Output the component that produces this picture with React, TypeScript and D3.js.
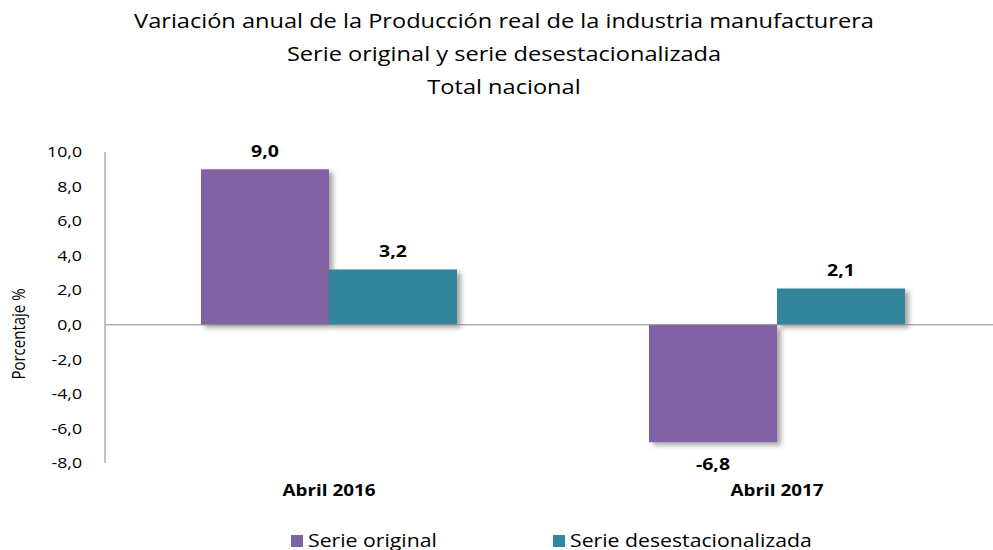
import React from "react";
import * as d3 from "d3";

const categories = ["Abril 2016", "Abril 2017"];
const seriesNames = ["Serie original", "Serie desestacionalizada"];
const serieOriginal = [9.0, -6.8];
const serieDesest = [3.2, 2.1];
const yTicks = [10, 8, 6, 4, 2, 0, -2, -4, -6, -8];
const titleLines = [
  "Variación anual de la Producción real de la industria manufacturera",
  "Serie original y serie desestacionalizada",
  "Total nacional",
];
const colors = ["#8064A2", "#31859C"];

const W = 993;
const H = 550;
const S = 1.18; // horizontal stretch of the reference text
const font = "'Open Sans', sans-serif";

function T(props: {
  x: number;
  y: number;
  anchor?: "start" | "middle" | "end";
  size: number;
  bold?: boolean;
  rotate?: number;
  dy?: string;
  children: React.ReactNode;
}) {
  const { x, y, anchor = "start", size, bold, rotate, dy, children } = props;
  const tr = `translate(${x},${y}) scale(${S},1)` + (rotate ? ` rotate(${rotate})` : "");
  return (
    <text
      transform={tr}
      textAnchor={anchor}
      fontSize={size}
      fontWeight={bold ? "bold" : "normal"}
      dy={dy}
      fill="#000"
    >
      {children}
    </text>
  );
}

export default function App() {
  const y = d3.scaleLinear().domain([-8, 10]).range([463, 152]);
  const x0 = d3.scaleBand<string>().domain(categories).range([105, 1001]).padding(0);
  const x1 = d3
    .scaleBand<string>()
    .domain(seriesNames)
    .range([96, x0.bandwidth() - 96])
    .padding(0);
  const values = [serieOriginal, serieDesest];
  const fmt = (v: number) => v.toFixed(1).replace(".", ",");

  return (
    <svg
      width={W}
      height={H}
      style={{ position: "absolute", left: 0, top: 0, fontFamily: font }}
    >
      <defs>
        <filter id="sh" x="-10%" y="-10%" width="130%" height="130%">
          <feDropShadow dx="4" dy="3" stdDeviation="2.5" floodColor="#000" floodOpacity="0.35" />
        </filter>
      </defs>
      <rect width={W} height={H} fill="#fff" />
      {titleLines.map((t, i) => (
        <T key={i} x={504} y={28 + i * 33} anchor="middle" size={20}>
          {t}
        </T>
      ))}
      {/* y axis */}
      <line x1={105} x2={105} y1={y(10)} y2={y(-8)} stroke="#888" strokeWidth={1} />
      {yTicks.map((t) => (
        <T key={t} x={82} y={y(t)} dy="0.35em" anchor="end" size={15}>
          {fmt(t)}
        </T>
      ))}
      <T x={25} y={334} anchor="middle" size={15} rotate={-90}>
        Porcentaje %
      </T>
      {/* bars */}
      {categories.map((c, ci) =>
        seriesNames.map((s, si) => {
          const v = values[si][ci];
          const bx = x0(c)! + x1(s)!;
          const top = Math.min(y(v), y(0));
          const h = Math.abs(y(v) - y(0));
          return (
            <rect
              key={c + s}
              x={bx}
              y={top}
              width={x1.bandwidth()}
              height={h}
              fill={colors[si]}
              filter="url(#sh)"
            />
          );
        })
      )}
      {/* zero line */}
      <line x1={105} x2={W} y1={y(0)} y2={y(0)} stroke="#888" strokeWidth={1} />
      {/* value labels */}
      {categories.map((c, ci) =>
        seriesNames.map((s, si) => {
          const v = values[si][ci];
          const cx = x0(c)! + x1(s)! + x1.bandwidth() / 2;
          const ly = v >= 0 ? y(v) - 12 : y(v) + 28;
          return (
            <T key={"l" + c + s} x={cx} y={ly} anchor="middle" size={16.5} bold>
              {fmt(v)}
            </T>
          );
        })
      )}
      {/* category labels */}
      {categories.map((c) => (
        <T
          key={"c" + c}
          x={x0(c)! + x0.bandwidth() / 2}
          y={496}
          anchor="middle"
          size={16}
          bold
        >
          {c}
        </T>
      ))}
      {/* legend */}
      {seriesNames.map((s, i) => {
        const lx = [291, 553][i];
        return (
          <g key={"lg" + s}>
            <rect x={lx} y={535} width={12} height={12} fill={colors[i]} />
            <T x={lx + 17} y={547} size={18}>
              {s}
            </T>
          </g>
        );
      })}
    </svg>
  );
}
